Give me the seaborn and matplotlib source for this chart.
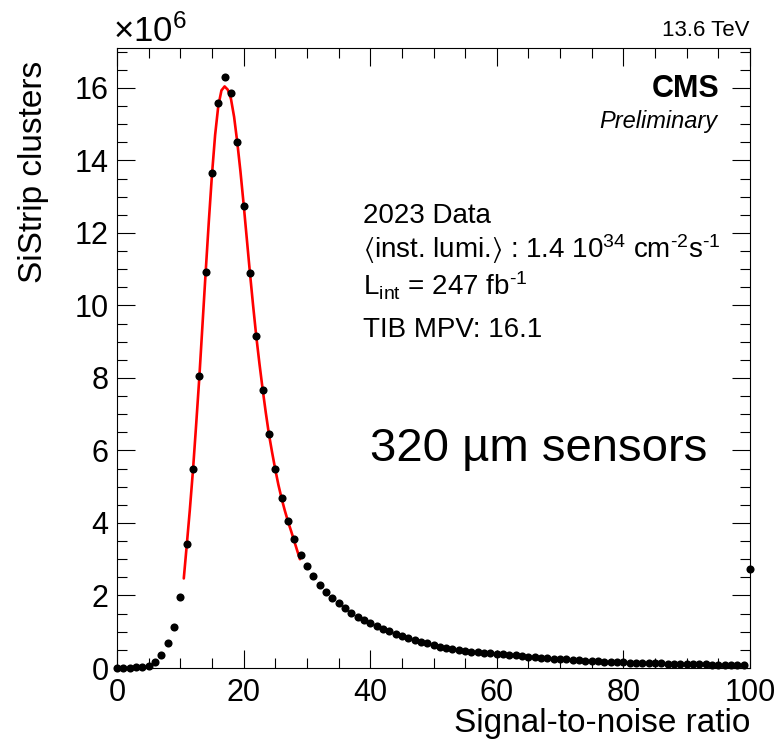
import matplotlib
matplotlib.use("Agg")
import matplotlib.pyplot as plt
from matplotlib.ticker import MultipleLocator
import seaborn as sns
import pandas as pd

# Signal-to-noise bins (one unit wide) and cluster counts in units of 10^6
snr_bins = list(range(0, 101))
cluster_counts = [
    0.01, 0.01, 0.01, 0.015, 0.03, 0.065, 0.17, 0.37, 0.70, 1.13,      # 0-9
    1.96, 3.41, 5.48, 8.04, 10.92, 13.65, 15.58, 16.31, 15.85, 14.52,  # 10-19
    12.75, 10.89, 9.16, 7.67, 6.46, 5.48, 4.70, 4.06, 3.55, 3.13,      # 20-29
    2.80, 2.53, 2.30, 2.10, 1.92, 1.78, 1.65, 1.53, 1.42, 1.32,        # 30-39
    1.23, 1.15, 1.08, 1.01, 0.95, 0.88, 0.83, 0.77, 0.73, 0.68,        # 40-49
    0.63, 0.59, 0.555, 0.52, 0.49, 0.47, 0.45, 0.435, 0.42, 0.405,     # 50-59
    0.39, 0.375, 0.36, 0.345, 0.33, 0.315, 0.30, 0.285, 0.27, 0.255,   # 60-69
    0.245, 0.235, 0.225, 0.215, 0.205, 0.195, 0.185, 0.177, 0.17, 0.163,  # 70-79
    0.157, 0.151, 0.145, 0.14, 0.135, 0.13, 0.125, 0.12, 0.116, 0.112,    # 80-89
    0.108, 0.104, 0.10, 0.097, 0.094, 0.091, 0.088, 0.085, 0.082, 0.079,  # 90-99
    2.72,                                                                 # 100 (overflow)
]

# Landau (x) Gaussian fit curve, sampled over the fit range
fit_snr = [10.55, 11.0, 11.5, 12.0, 12.5, 13.0, 13.5, 14.0, 14.5, 15.0,
           15.5, 16.0, 16.5, 17.0, 17.5, 18.0, 18.5, 19.0, 19.5, 20.0,
           20.5, 21.0, 21.5, 22.0, 22.5, 23.0, 23.5, 24.0, 24.5, 25.0,
           25.5, 26.0, 26.5, 27.0, 27.5, 28.0, 28.5, 28.9]
fit_counts = [2.47, 3.35, 4.35, 5.45, 6.70, 8.00, 9.45, 10.90, 12.30, 13.60,
              14.70, 15.50, 15.93, 16.04, 15.95, 15.70, 15.20, 14.50, 13.70, 12.80,
              11.85, 10.90, 10.00, 9.15, 8.40, 7.70, 7.05, 6.45, 5.95, 5.48,
              5.05, 4.68, 4.35, 4.05, 3.78, 3.50, 3.22, 3.00]

x_ticks = [0, 20, 40, 60, 80, 100]
y_ticks = [0, 2, 4, 6, 8, 10, 12, 14, 16]

data = pd.DataFrame({"snr": snr_bins, "clusters": cluster_counts})
fit = pd.DataFrame({"snr": fit_snr, "clusters": fit_counts})

sns.set_theme(style="ticks")
plt.rcParams["font.family"] = ["Liberation Sans", "DejaVu Sans"]
plt.rcParams["mathtext.fontset"] = "custom"
plt.rcParams["mathtext.rm"] = "Liberation Sans"
plt.rcParams["mathtext.it"] = "Liberation Sans:italic"
plt.rcParams["mathtext.bf"] = "Liberation Sans:bold"
plt.rcParams["mathtext.fallback"] = "stixsans"
for key in ("text.color", "axes.labelcolor", "xtick.color", "ytick.color",
            "xtick.labelcolor", "ytick.labelcolor"):
    plt.rcParams[key] = "black"

fig = plt.figure(figsize=(7.8, 7.49), dpi=100)
ax = fig.add_axes([117 / 780, 81 / 749, 633 / 780, 620 / 749])

sns.lineplot(data=fit, x="snr", y="clusters", ax=ax, color="#ff0000",
             linewidth=1.9, errorbar=None, sort=False, zorder=2)
sns.scatterplot(data=data, x="snr", y="clusters", ax=ax, color="black",
                s=34, linewidth=0, zorder=3, clip_on=False)

ax.set_xlim(0, 100)
ax.set_ylim(0, 17.1)
ax.set_xticks(x_ticks)
ax.set_yticks(y_ticks)
ax.xaxis.set_minor_locator(MultipleLocator(5))
ax.yaxis.set_minor_locator(MultipleLocator(0.5))
ax.tick_params(which="both", direction="in", top=True, right=True,
               color="black", width=0.8)
ax.tick_params(which="major", length=13, labelsize=22, pad=6)
ax.tick_params(which="minor", length=7)
ax.tick_params(axis="x", which="major", pad=7)
for spine in ax.spines.values():
    spine.set_color("black")
    spine.set_linewidth(0.8)

ax.set_xlabel("Signal-to-noise ratio", fontsize=24, ha="right")
ax.xaxis.set_label_coords(1.0, -0.064)
ax.set_ylabel("SiStrip clusters", fontsize=24, ha="right")
ax.yaxis.set_label_coords(-0.108, 0.98)

ax.text(-0.006, 1.0102, "×10$^{6}$", transform=ax.transAxes,
        fontsize=25, ha="left", va="baseline")
ax.text(1.0, 1.019, "13.6 TeV", transform=ax.transAxes,
        fontsize=16, ha="right", va="baseline")
ax.text(0.9526, 0.921, "CMS", transform=ax.transAxes,
        fontsize=22, fontweight="bold", ha="right", va="baseline")
ax.text(0.949, 0.871, "Preliminary", transform=ax.transAxes,
        fontsize=17, fontstyle="italic", ha="right", va="baseline")

info_lines = [
    "2023 Data",
    "$\\langle$inst. lumi.$\\rangle$ : 1.4 10$^{34}$ cm$^{\\text{-}2}$s$^{\\text{-}1}$",
    "L$_{\\mathrm{int}}$ = 247 fb$^{\\text{-}1}$",
    "TIB MPV: 16.1",
]
info_y = [0.718, 0.661, 0.600, 0.534]
for line, yy in zip(info_lines, info_y):
    ax.text(0.3886, yy, line, transform=ax.transAxes,
            fontsize=20, ha="left", va="baseline")

ax.text(0.40, 0.334, "320 µm sensors", transform=ax.transAxes,
        fontsize=34, ha="left", va="baseline")

fig.savefig("out.png", dpi=100, facecolor="white")
